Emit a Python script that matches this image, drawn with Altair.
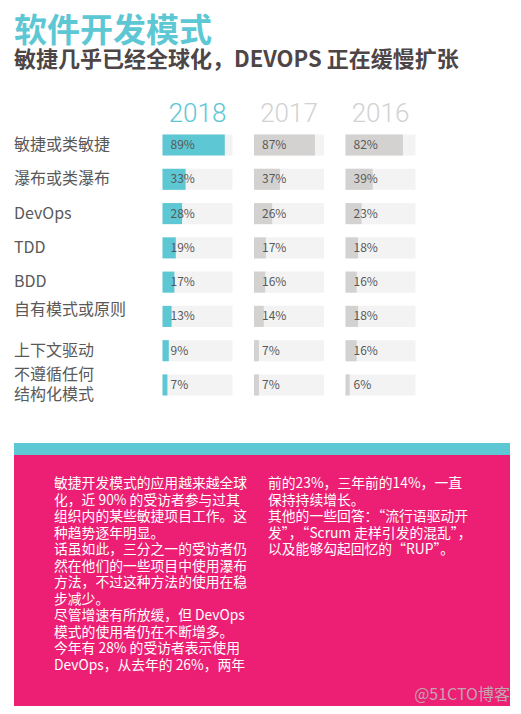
import altair as alt
import pandas as pd

# ---------------- data ----------------
categories = ["敏捷或类敏捷", "瀑布或类瀑布", "DevOps", "TDD", "BDD",
              "自有模式或原则", "上下文驱动", "不遵循任何\n结构化模式"]
years = ["2018", "2017", "2016"]
values_2018 = [89, 33, 28, 19, 17, 13, 9, 7]
values_2017 = [87, 37, 26, 17, 16, 14, 7, 7]
values_2016 = [82, 39, 23, 18, 16, 18, 16, 6]

title_text = "软件开发模式"
subtitle_text = "敏捷几乎已经全球化，DEVOPS 正在缓慢扩张"

left_lines = [
    "敏捷开发模式的应用越来越全球",
    "化，近 90% 的受访者参与过其",
    "组织内的某些敏捷项目工作。这",
    "种趋势逐年明显。",
    "话虽如此，三分之一的受访者仍",
    "然在他们的一些项目中使用瀑布",
    "方法，不过这种方法的使用在稳",
    "步减少。",
    "尽管增速有所放缓，但 DevOps",
    "模式的使用者仍在不断增多。",
    "今年有 28% 的受访者表示使用",
    "DevOps，从去年的 26%，两年",
]
right_lines = [
    "前的23%，三年前的14%，一直",
    "保持持续增长。",
    "其他的一些回答：“流行语驱动开",
    "发”，“Scrum 走样引发的混乱”，",
    "以及能够勾起回忆的“RUP”。",
]
watermark = "@51CTO博客"

# ---------------- styles ----------------
FONT = "Noto Sans CJK SC"
TEAL = "#5DC7D4"
PINK = "#EC1F74"
GRAY_BAR = "#D4D2D0"
TRACK = "#F3F3F3"
YEAR_GRAY = "#D2D2D2"
DARK = "#4D4546"
LABEL = "#595959"

Y_SCALE = alt.Scale(paddingInner=0.385, paddingOuter=0.19)
PANEL_H = 274


def ycat():
    return alt.Y("category:N", sort=categories, scale=Y_SCALE, axis=None)


def label_panel():
    df = pd.DataFrame({"category": categories})
    base = alt.Chart(df)
    common = dict(align="left", baseline="middle", fontSize=16, font=FONT,
                  color=LABEL, lineBreak="\n", lineHeight=20)
    normal = base.transform_filter(
        "datum.category != '自有模式或原则' && indexof(datum.category, '\\n') < 0"
    ).mark_text(**common).encode(x=alt.value(0), y=ycat(), text="category:N")
    raised = base.transform_filter(
        "datum.category == '自有模式或原则'"
    ).mark_text(dy=-6, **common).encode(x=alt.value(0), y=ycat(), text="category:N")
    multi = base.transform_filter(
        "indexof(datum.category, '\\n') >= 0"
    ).mark_text(dy=-10, **common).encode(x=alt.value(0), y=ycat(), text="category:N")
    return alt.layer(normal, raised, multi).properties(width=126.5, height=PANEL_H)


def panel(year, values, bar_color, year_color):
    df = pd.DataFrame({
        "category": categories,
        "value": values,
        "label": [f"{v}%" for v in values],
    })
    y = ycat()
    xs = alt.Scale(domain=[0, 100], nice=False, zero=True)
    base = alt.Chart(df)
    track = base.mark_bar(color=TRACK).encode(x=alt.X(datum=100, scale=xs, axis=None), y=y)
    bar = base.mark_bar(color=bar_color).encode(x=alt.X("value:Q", scale=xs, axis=None), y=y)
    txt = base.mark_text(align="left", baseline="middle", dx=8, fontSize=12,
                         font=FONT, color=LABEL).encode(
        x=alt.X(datum=0, scale=xs, axis=None), y=y, text="label:N")
    return alt.layer(track, bar, txt).properties(
        width=70, height=PANEL_H,
        title=alt.TitleParams(year, color=year_color, fontSize=26, font="Roboto",
                              fontWeight=300, anchor="middle", offset=1.5),
    )


main = alt.hconcat(
    label_panel(),
    panel(years[0], values_2018, TEAL, TEAL),
    panel(years[1], values_2017, GRAY_BAR, YEAR_GRAY),
    panel(years[2], values_2016, GRAY_BAR, YEAR_GRAY),
    spacing=21.5,
)

strip = alt.Chart(pd.DataFrame({"a": [0]})).mark_text().encode(
    text=alt.value("")
).properties(width=496, height=12, view=alt.ViewBackground(fill=TEAL, strokeWidth=0))

text_df = pd.DataFrame({
    "col": [0] * len(left_lines) + [1] * len(right_lines),
    "line": list(range(len(left_lines))) + list(range(len(right_lines))),
    "text": left_lines + right_lines,
})
body = alt.Chart(text_df).mark_text(
    align="left", baseline="middle", color="white", fontSize=13.8, font=FONT
).encode(
    x=alt.X("col:Q", scale=alt.Scale(domain=[0, 1], range=[40, 254]), axis=None),
    y=alt.Y("line:Q", scale=alt.Scale(domain=[0, 11], range=[29, 29 + 11 * 16.5]), axis=None),
    text="text:N",
)
wm = alt.Chart(pd.DataFrame({"t": [watermark]})).mark_text(
    align="right", baseline="middle", fontSize=16, font=FONT, color="#BDBDBD", opacity=0.85
).encode(x=alt.value(496), y=alt.value(240), text="t:N")

pink = alt.layer(body, wm).properties(
    width=496, height=251, view=alt.ViewBackground(fill=PINK, strokeWidth=0)
)

bottom = alt.vconcat(strip, pink, spacing=0)

chart = alt.vconcat(main, bottom, spacing=40).properties(
    title=alt.TitleParams(
        title_text, subtitle=subtitle_text, anchor="start",
        font=FONT, fontSize=33, fontWeight="bold", color=TEAL,
        subtitleFont=FONT, subtitleFontSize=22, subtitleFontWeight="bold",
        subtitleColor=DARK, subtitlePadding=1, offset=30,
    ),
    padding={"left": 6, "top": 7, "right": 0, "bottom": 0},
    background="white",
).configure_view(strokeWidth=0)

chart.save("out.html", embed_options={"renderer": "svg", "actions": False})
